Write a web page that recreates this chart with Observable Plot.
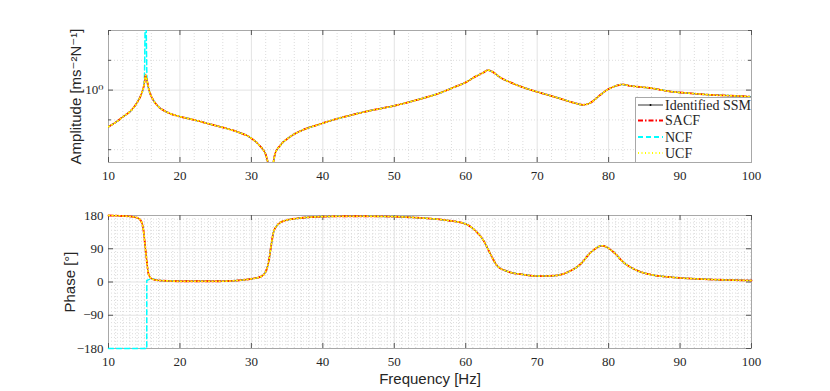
<!DOCTYPE html>
<html><head><meta charset="utf-8">
<script src="https://cdn.jsdelivr.net/npm/d3@7"></script>
<script src="https://cdn.jsdelivr.net/npm/@observablehq/plot@0.6"></script>
<style>
body{margin:0;background:#fff;}
#wrap{position:relative;width:830px;height:391px;overflow:hidden;}
#top,#bot,#legend{position:absolute;}
#top{top:0;left:0}
#bot{top:190px;left:0}
#legend{left:635px;top:97px}
</style></head><body>
<div id="wrap"><div id="top"></div><div id="bot"></div><svg id="legend" width="117" height="66"></svg></div>
<script>
// ---------------- data ----------------
const ampFreq = [10, 10.94, 12, 13.1, 14, 14.6, 15, 15.2, 15.4, 15.7, 16.2, 17.1, 18.1, 20, 22, 24.2, 26.1, 28, 29.8, 31, 31.9, 32.8, 33.3, 34, 35.4, 37.3, 39.6, 41.3, 44, 46, 49.9, 53.6, 56, 58.3, 60, 61.4, 62.5, 63.1, 63.7, 64.85, 66.25, 68.4, 70.7, 73, 75.4, 76.4, 77.5, 78.6, 79.8, 81, 81.9, 83.1, 85.9, 88.7, 91.5, 94.3, 97.1, 100];
// Identified SSM / SACF / UCF amplitude (they overlap)
const ssmAmp = [0.059, 0.081, 0.126, 0.20, 0.38, 0.74, 1.58, 3.16, 2.04, 0.95, 0.50, 0.263, 0.186, 0.129, 0.100, 0.072, 0.055, 0.040, 0.026, 0.015, 0.0079, 0.002, 0.0071, 0.0135, 0.027, 0.047, 0.072, 0.098, 0.145, 0.19, 0.295, 0.50, 0.74, 1.23, 1.82, 2.88, 3.89, 4.68, 4.17, 2.63, 1.82, 1.15, 0.78, 0.54, 0.36, 0.32, 0.38, 0.62, 1.02, 1.38, 1.55, 1.38, 1.17, 0.89, 0.78, 0.69, 0.65, 0.60];
// NCF amplitude (undamped: spike at the first mode)
const ncfAmp = [0.059, 0.081, 0.126, 0.20, 0.38, 0.74, 1.58, 1000, 2.04, 0.95, 0.50, 0.263, 0.186, 0.129, 0.100, 0.072, 0.055, 0.040, 0.026, 0.015, 0.0079, 0.002, 0.0071, 0.0135, 0.027, 0.047, 0.072, 0.098, 0.145, 0.19, 0.295, 0.50, 0.74, 1.23, 1.82, 2.88, 3.89, 4.68, 4.17, 2.63, 1.82, 1.15, 0.78, 0.54, 0.36, 0.32, 0.38, 0.62, 1.02, 1.38, 1.55, 1.38, 1.17, 0.89, 0.78, 0.69, 0.65, 0.60];

const phaseFreq = [10, 12.6, 14, 14.55, 14.9, 15.15, 15.4, 15.6, 16.1, 17.2, 20.5, 25.2, 28, 29.8, 31.25, 31.95, 32.4, 32.8, 33.1, 33.6, 34.5, 36.8, 40.1, 43.8, 49.9, 53.2, 56.9, 60, 61.35, 62.5, 63.45, 64.4, 65.8, 68.1, 70, 72.3, 74.2, 76.1, 77.5, 79.1, 80.75, 82.1, 84, 85.9, 88.7, 92.9, 100];
const ssmPhase = [180, 178, 174, 165, 139, 94, 49, 22, 8, 4, 2, 2, 4, 8, 14, 26, 53, 103, 135, 153, 165, 173, 177, 178, 177, 174, 168, 157, 139, 112, 76, 44, 29, 20, 16, 17, 26, 49, 80, 98, 80, 53, 31, 20, 13, 8, 4];
const ncfPhaseFreq = [10, 15.35, 15.36, 16.1, 17.2, 20.5, 25.2, 28, 29.8, 31.25, 31.95, 32.4, 32.8, 33.1, 33.6, 34.5, 36.8, 40.1, 43.8, 49.9, 53.2, 56.9, 60, 61.35, 62.5, 63.45, 64.4, 65.8, 68.1, 70, 72.3, 74.2, 76.1, 77.5, 79.1, 80.75, 82.1, 84, 85.9, 88.7, 92.9, 100];
const ncfPhase = [-180, -180, 4, 8, 4, 2, 2, 4, 8, 14, 26, 53, 103, 135, 153, 165, 173, 177, 178, 177, 174, 168, 157, 139, 112, 76, 44, 29, 20, 16, 17, 26, 49, 80, 98, 80, 53, 31, 20, 13, 8, 4];

const freqTicks = [10, 20, 30, 40, 50, 60, 70, 80, 90, 100];
const ampTicks = [1];
const ampTickLabel = "10⁰";
const ampMinor = [0.01, 0.1, 10, 100];
const phaseTicks = [-180, -90, 0, 90, 180];
const seriesNames = ["Identified SSM", "SACF", "NCF", "UCF"];

// ---------------- build tables ----------------
const ampSSM = ampFreq.map((f, i) => ({f, v: ssmAmp[i]}));
const ampNCF = ampFreq.map((f, i) => ({f, v: ncfAmp[i]}));
const phSSM = phaseFreq.map((f, i) => ({f, v: ssmPhase[i]}));
const phNCF = ncfPhaseFreq.map((f, i) => ({f, v: ncfPhase[i]}));

const W = 830, ML = 108, MR = 79;
const PW = W - ML - MR;
const serif = "'Liberation Serif', 'DejaVu Serif', serif";
const sans = "'Liberation Sans', Arial, 'DejaVu Sans', sans-serif";
const gridMajor = "#e3e3e3", gridMinor = "#dcdcdc", frameCol = "#a8a8a8", tickCol = "#555";

const styles = [
  {stroke: "black", w: 0.7, dash: null},
  {stroke: "#ff0000", w: 1.8, dash: "5,2,1.5,2"},
  {stroke: "#00ffff", w: 1.5, dash: "5,3"},
  {stroke: "#ffff00", w: 1.6, dash: "1,2.5"}
];
const drawOrder = [0, 2, 1, 3];

function curves(ssm, ncf, clip) {
  const c = "monotone-x";
  const src = [ssm, ssm, ncf, ssm];
  return drawOrder.map(i => {
    const s = styles[i];
    return Plot.line(src[i], {x: "f", y: "v", stroke: s.stroke, strokeWidth: s.w, strokeDasharray: s.dash ?? undefined, curve: c, clip});
  });
}
function boxTicks(xs, ys, ph, len) {
  return [
    Plot.ruleX(xs, {x: d => d, stroke: tickCol, insetTop: ph - len}),
    Plot.ruleX(xs, {x: d => d, stroke: tickCol, insetBottom: ph - len}),
    Plot.ruleY(ys, {y: d => d, stroke: tickCol, insetRight: PW - len}),
    Plot.ruleY(ys, {y: d => d, stroke: tickCol, insetLeft: PW - len})
  ];
}

// ---------------- top: amplitude ----------------
const topH = 190, topMT = 30, topMB = 28, topPH = topH - topMT - topMB;
const topPlot = Plot.plot({
  width: W, height: topH, marginLeft: ML, marginRight: MR, marginTop: topMT, marginBottom: topMB,
  style: {fontFamily: serif, fontSize: "13px", color: "#262626", background: "white"},
  x: {domain: [10, 100]},
  y: {type: "log", domain: [0.00372, 100]},
  marks: [
    Plot.gridX(d3.range(12, 100, 2).filter(v => v % 10 !== 0), {stroke: gridMinor, strokeOpacity: 1, strokeDasharray: "1,2"}),
    Plot.gridY(ampMinor, {stroke: gridMinor, strokeOpacity: 1, strokeDasharray: "1,2"}),
    Plot.gridX(freqTicks, {stroke: gridMajor, strokeOpacity: 1}),
    Plot.gridY(ampTicks, {stroke: gridMajor, strokeOpacity: 1}),
    Plot.frame({stroke: frameCol}),
    ...boxTicks(freqTicks, ampTicks, topPH, 5),
    Plot.ruleY(ampMinor, {y: d => d, stroke: tickCol, insetRight: PW - 3}),
    Plot.ruleY(ampMinor, {y: d => d, stroke: tickCol, insetLeft: PW - 3}),
    ...curves(ampSSM, ampNCF, true),
    Plot.axisX(freqTicks, {anchor: "bottom", tickSize: 0, tickPadding: 8, label: null}),
    Plot.axisY(ampTicks, {anchor: "left", tickSize: 0, tickPadding: 5, tickFormat: () => ampTickLabel, label: null}),
    Plot.text(["Amplitude [ms⁻²N⁻¹]"], {frameAnchor: "left", textAnchor: "middle", dx: -32, rotate: -90, text: d => d, fontFamily: sans, fontSize: 15, fill: "#262626"})
  ]
});
document.getElementById("top").append(topPlot);

// ---------------- bottom: phase ----------------
const botH = 201, botMT = 25, botMB = 43, botPH = botH - botMT - botMB;
const botPlot = Plot.plot({
  width: W, height: botH, marginLeft: ML, marginRight: MR, marginTop: botMT, marginBottom: botMB,
  style: {fontFamily: serif, fontSize: "13px", color: "#262626", background: "white"},
  x: {domain: [10, 100]},
  y: {domain: [-180, 180]},
  marks: [
    Plot.gridX(d3.range(11, 100, 1).filter(v => v % 10 !== 0), {stroke: gridMinor, strokeOpacity: 1, strokeDasharray: "1,2"}),
    Plot.gridY(d3.range(-170, 180, 10).filter(v => v % 90 !== 0), {stroke: gridMinor, strokeOpacity: 1, strokeDasharray: "1,2"}),
    Plot.gridX(freqTicks, {stroke: gridMajor, strokeOpacity: 1}),
    Plot.gridY(phaseTicks, {stroke: gridMajor, strokeOpacity: 1}),
    Plot.frame({stroke: frameCol}),
    ...boxTicks(freqTicks, phaseTicks, botPH, 5),
    ...curves(phSSM, phNCF, false),
    Plot.axisX(freqTicks, {anchor: "bottom", tickSize: 0, tickPadding: 8, label: null}),
    Plot.axisY(phaseTicks, {anchor: "left", tickSize: 0, tickPadding: 5, label: null}),
    Plot.text(["Phase [°]"], {frameAnchor: "left", textAnchor: "middle", dx: -38, rotate: -90, text: d => d, fontFamily: sans, fontSize: 15, fill: "#262626"}),
    Plot.text(["Frequency [Hz]"], {frameAnchor: "bottom", lineAnchor: "middle", dy: 31, text: d => d, fontFamily: sans, fontSize: 15, fill: "#262626"})
  ]
});
document.getElementById("bot").append(botPlot);

// ---------------- legend ----------------
const lg = d3.select("#legend");
lg.append("rect").attr("x", 0.5).attr("y", 0.5).attr("width", 116).attr("height", 65).attr("fill", "white").attr("stroke", frameCol);
const rowY = [8, 23.5, 40, 56];
seriesNames.forEach((name, i) => {
  const s = styles[i];
  lg.append("line").attr("x1", 3).attr("x2", 28).attr("y1", rowY[i]).attr("y2", rowY[i])
    .attr("stroke", s.stroke).attr("stroke-width", i === 0 ? 0.8 : 2).attr("stroke-dasharray", s.dash);
  if (i === 0) lg.append("circle").attr("cx", 15.5).attr("cy", rowY[i]).attr("r", 1).attr("fill", "black");
  lg.append("text").attr("x", 30).attr("y", rowY[i]).attr("dy", "0.35em")
    .attr("font-family", serif).attr("font-size", 14).attr("fill", "#262626").text(name);
});
</script>
</body></html>
